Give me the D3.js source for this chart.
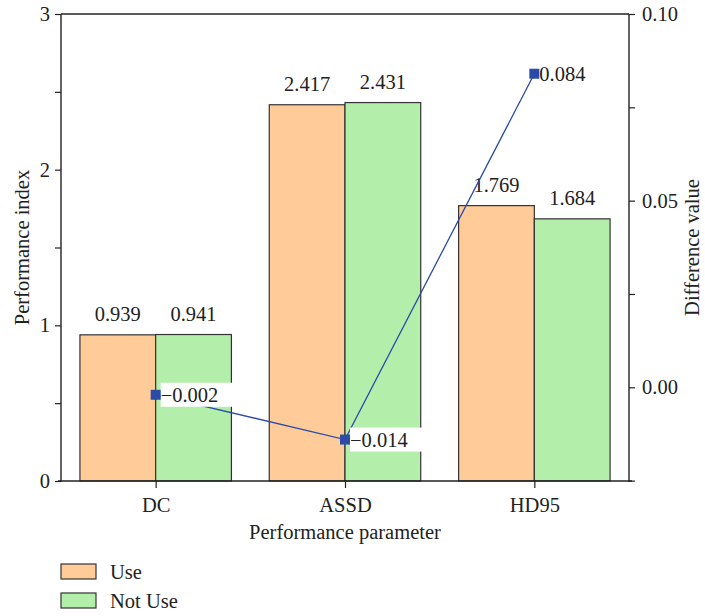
<!DOCTYPE html>
<html>
<head>
<meta charset="utf-8">
<script src="https://cdn.jsdelivr.net/npm/d3@7"></script>
<style>
  body { margin: 0; background: #fff; }
  text { font-family: "Liberation Serif", "DejaVu Serif", serif; fill: #222; }
</style>
</head>
<body>
<div id="wrapper"></div>
<script>
const categories = ["DC", "ASSD", "HD95"]
const seriesNames = ["Use", "Not Use"]
const useValues = [0.939, 2.417, 1.769]
const notUseValues = [0.941, 2.431, 1.684]
const diffValues = [-0.002, -0.014, 0.084]
const leftTicks = [0, 1, 2, 3]
const rightTicks = [0.00, 0.05, 0.10]

const colors = ["#FFCB99", "#B3EFAA"]
const lineColor = "#2B4BA8"
const fs = 20.5

let dimensions = {
    width: 705,
    height: 616,
    margin: { top: 14, right: 76, bottom: 135, left: 61 },
}
dimensions.boundedWidth = dimensions.width - dimensions.margin.left - dimensions.margin.right
dimensions.boundedHeight = dimensions.height - dimensions.margin.top - dimensions.margin.bottom

const wrapper = d3.select("#wrapper")
    .append("svg")
    .attr("width", dimensions.width)
    .attr("height", dimensions.height)

const bounds = wrapper.append("g")
    .attr("transform", `translate(${dimensions.margin.left},${dimensions.margin.top})`)

// scales
const xScale = d3.scaleBand()
    .domain(categories)
    .range([0, dimensions.boundedWidth])
    .paddingInner(0.2)
    .paddingOuter(0.1)
const x0 = d3.scalePoint().domain(categories).range([0, dimensions.boundedWidth]).padding(0.5)
const subScale = d3.scaleBand().domain(seriesNames).range([0, xScale.bandwidth()])

const yLeft = d3.scaleLinear().domain([0, 3]).range([dimensions.boundedHeight, 0])
const yRight = d3.scaleLinear().domain([-0.0251, 0.1]).range([dimensions.boundedHeight, 0])

const rows = categories.map((c, i) => ({ cat: c, vals: [useValues[i], notUseValues[i]], diff: diffValues[i] }))

// bars
const groups = bounds.selectAll(".grp")
    .data(rows)
    .join("g")
    .attr("transform", d => `translate(${x0(d.cat) - xScale.bandwidth() / 2},0)`)

groups.selectAll("rect")
    .data(d => d.vals.map((v, j) => ({ v, name: seriesNames[j], j })))
    .join("rect")
    .attr("x", d => subScale(d.name))
    .attr("y", d => yLeft(d.v))
    .attr("width", subScale.bandwidth())
    .attr("height", d => dimensions.boundedHeight - yLeft(d.v))
    .attr("fill", d => colors[d.j])
    .attr("stroke", "#333")
    .attr("stroke-width", 1.2)

groups.selectAll(".vlab")
    .data(d => d.vals.map((v, j) => ({ v, name: seriesNames[j] })))
    .join("text")
    .attr("class", "vlab")
    .attr("x", d => subScale(d.name) + subScale.bandwidth() / 2)
    .attr("y", d => yLeft(d.v) - 14)
    .attr("text-anchor", "middle")
    .attr("font-size", fs)
    .text(d => d.v.toFixed(3))

// axes
const axisLeft = d3.axisLeft(yLeft).tickValues(d3.range(0, 3.01, 0.5)).tickSize(6).tickPadding(5)
    .tickFormat(d => leftTicks.includes(d) ? d3.format("d")(d) : "")
const gl = bounds.append("g").call(axisLeft)

const axisRight = d3.axisRight(yRight).tickValues([-0.025, 0, 0.025, 0.05, 0.075, 0.1]).tickSize(6).tickPadding(7)
    .tickFormat(d => rightTicks.some(t => Math.abs(t - d) < 1e-9) ? d3.format(".2f")(d) : "")
const gr = bounds.append("g").attr("transform", `translate(${dimensions.boundedWidth},0)`).call(axisRight)

const axisBottom = d3.axisBottom(x0).tickSize(7).tickPadding(9)
const gb = bounds.append("g").attr("transform", `translate(0,${dimensions.boundedHeight})`).call(axisBottom)

bounds.append("line")
    .attr("x1", 0).attr("x2", dimensions.boundedWidth)
    .attr("y1", 0).attr("y2", 0)
    .attr("stroke", "#222").attr("stroke-width", 1.4)

;[gl, gr, gb].forEach(g => {
    g.select(".domain").attr("stroke", "#222").attr("stroke-width", 1.4)
    g.selectAll(".tick line").attr("stroke", "#222").attr("stroke-width", 1.2)
    g.selectAll(".tick text").attr("font-size", fs).attr("fill", "#222")
        .attr("font-family", "Liberation Serif, serif")
})
gb.select(".domain").attr("d", `M-3,0H${dimensions.boundedWidth + 3}`)
gl.select(".domain").attr("d", `M0,${dimensions.boundedHeight + 1}V0`)
gr.select(".domain").attr("d", `M0,${dimensions.boundedHeight + 1}V0`)

// difference line
const line = d3.line().x(d => x0(d.cat)).y(d => yRight(d.diff))
bounds.append("path")
    .datum(rows)
    .attr("d", line)
    .attr("fill", "none")
    .attr("stroke", lineColor)
    .attr("stroke-width", 1.3)

const dlab = bounds.selectAll(".dlab")
    .data(rows)
    .join("g")
    .attr("transform", d => `translate(${x0(d.cat) + 5},${yRight(d.diff)})`)
dlab.append("rect")
    .attr("x", 0).attr("y", -12)
    .attr("width", 72).attr("height", 24)
    .attr("fill", "#fff")
dlab.append("text")
    .attr("x", 0).attr("y", 7.5)
    .attr("font-size", fs)
    .text(d => d3.format(".3f")(d.diff))

bounds.selectAll(".mark")
    .data(rows)
    .join("rect")
    .attr("x", d => x0(d.cat) - 5)
    .attr("y", d => yRight(d.diff) - 5)
    .attr("width", 10).attr("height", 10)
    .attr("fill", lineColor)

// axis titles
wrapper.append("text")
    .attr("transform", `translate(29,${dimensions.margin.top + dimensions.boundedHeight / 2}) rotate(-90)`)
    .attr("text-anchor", "middle")
    .attr("font-size", fs)
    .text("Performance index")

wrapper.append("text")
    .attr("transform", `translate(699,${dimensions.margin.top + dimensions.boundedHeight / 2}) rotate(-90)`)
    .attr("text-anchor", "middle")
    .attr("font-size", fs)
    .text("Difference value")

wrapper.append("text")
    .attr("x", dimensions.margin.left + dimensions.boundedWidth / 2)
    .attr("y", 539)
    .attr("text-anchor", "middle")
    .attr("font-size", fs)
    .text("Performance parameter")

// legend
const legend = wrapper.append("g").attr("transform", "translate(61,564)")
seriesNames.forEach((name, i) => {
    legend.append("rect")
        .attr("x", 0).attr("y", i * 29)
        .attr("width", 35).attr("height", 15)
        .attr("fill", colors[i])
        .attr("stroke", "#333")
        .attr("stroke-width", 1.2)
    legend.append("text")
        .attr("x", 49).attr("y", i * 29 + 15)
        .attr("font-size", fs)
        .text(name)
})
</script>
</body>
</html>
